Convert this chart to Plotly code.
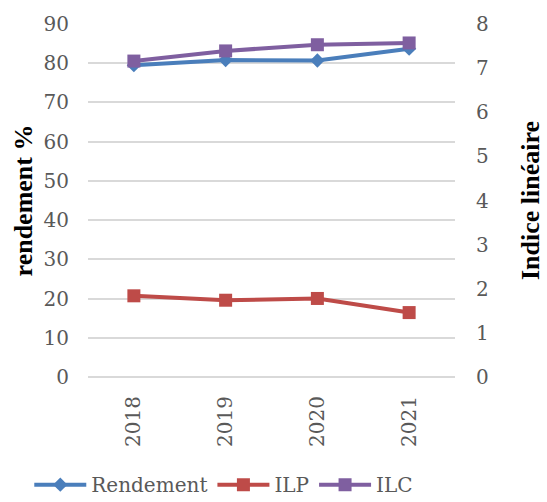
import plotly.graph_objects as go

years = ["2018", "2019", "2020", "2021"]
rendement = [79.5, 80.8, 80.7, 83.7]
ilp = [1.84, 1.74, 1.78, 1.46]
ilc = [7.16, 7.39, 7.53, 7.57]

tick_font = "DejaVu Serif, serif"
title_font = "Liberation Serif, serif"

fig = go.Figure()
fig.add_trace(go.Scatter(x=years, y=rendement, name="Rendement", mode="lines+markers",
                         line=dict(color="#4A7EBB", width=4),
                         marker=dict(symbol="diamond", size=11, color="#4A7EBB")))
fig.add_trace(go.Scatter(x=years, y=ilp, name="ILP", mode="lines+markers", yaxis="y2",
                         line=dict(color="#BE4B48", width=4),
                         marker=dict(symbol="square", size=13, color="#BE4B48")))
fig.add_trace(go.Scatter(x=years, y=ilc, name="ILC", mode="lines+markers", yaxis="y2",
                         line=dict(color="#7F5FA0", width=4),
                         marker=dict(symbol="square", size=13, color="#7F5FA0")))

fig.update_layout(
    width=547, height=502,
    margin=dict(l=88, r=92, t=24, b=125, autoexpand=False),
    paper_bgcolor="white", plot_bgcolor="white",
    font=dict(family=tick_font, size=20, color="#595959"),
    xaxis=dict(type="category", range=[-0.5, 3.5], tickangle=-90, showgrid=False, showline=False,
               automargin=False, ticks="", ticklabelstandoff=14,
               tickfont=dict(family=tick_font, size=20, color="#595959")),
    yaxis=dict(range=[0, 90], dtick=10, showgrid=True, gridcolor="#d9d9d9", gridwidth=1.5,
               zeroline=True, zerolinecolor="#d9d9d9", zerolinewidth=1.5, automargin=False,
               ticks="", ticklabelstandoff=18,
               title=dict(text="rendement %", font=dict(size=26, color="black", family=title_font, weight="bold"), standoff=3),
               tickfont=dict(family=tick_font, size=20, color="#595959")),
    yaxis2=dict(range=[0, 8], dtick=1, overlaying="y", side="right", showgrid=False,
                zeroline=False, ticks="", automargin=False, ticklabelstandoff=20,
                title=dict(text="Indice linéaire", font=dict(size=26, color="black", family=title_font, weight="bold"), standoff=33),
                tickfont=dict(family=tick_font, size=20, color="#595959")),
    legend=dict(orientation="h", x=-0.16, xanchor="left", y=-0.305, yanchor="middle",
                font=dict(family=tick_font, size=20, color="#595959"), itemwidth=52, traceorder="normal"),
    showlegend=True,
)

fig.write_html("out.html", config={"displayModeBar": False},
               post_script="document.body.style.margin='0';")
